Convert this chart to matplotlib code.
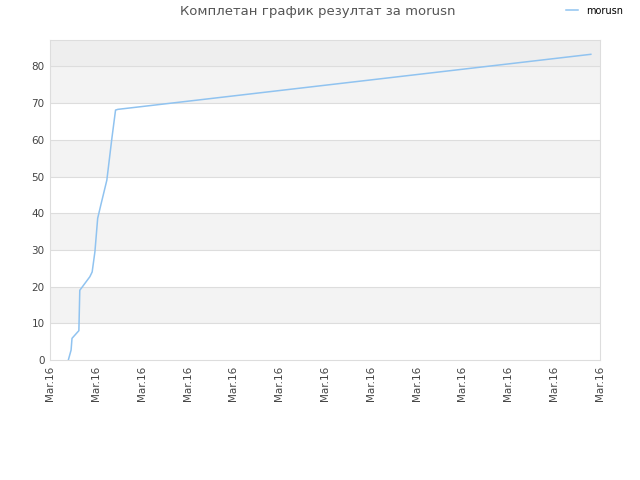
import numpy as np
import matplotlib.pyplot as plt

# x in tick units (13 ticks, all "Mar.16"), y = result
xs = [0.40, 0.46, 0.48, 0.63, 0.65, 0.87, 0.92, 0.98, 1.04, 1.11, 1.24, 1.35, 1.43, 1.48, 11.80]
ys = [0, 2.7, 5.9, 8, 19, 22.7, 24, 29.5, 38.6, 42.3, 49, 60.4, 68.1, 68.3, 83.3]
tick_labels = ['Mar.16'] * 13
series_name = 'morusn'
title = 'Комплетан график резултат за morusn'

fig = plt.figure(figsize=(6.4, 4.8), dpi=100)
ax = fig.add_axes([50/640, 120/480, 550/640, 320/480])

ymax = 87.2
ax.set_xlim(0, 12)
ax.set_ylim(0, ymax)

# alternating bands
for lo in range(10, 80, 20):
    ax.axhspan(lo, lo + 10, color='#f3f3f3', zorder=0, lw=0)
ax.axhspan(80, ymax, color='#eeeeee', zorder=0, lw=0)
for v in range(10, 90, 10):
    ax.axhline(v, color='#dddddd', lw=0.8, zorder=1)

ax.plot(xs, ys, color='#90c3f0', lw=1.1, zorder=3, label=series_name)

ax.set_yticks(range(0, 90, 10))
ax.set_xticks(range(13))
ax.set_xticklabels(tick_labels, rotation=90)
ax.tick_params(length=0, labelsize=7.5, colors='#444444', pad=4)
for s in ax.spines.values():
    s.set_color('#dddddd')

fig.text(318/640, 1 - 12/480, title, ha='center', va='center', fontsize=9.5, color='#555555')
fig.legend(loc='upper right', bbox_to_anchor=(0.982, 1.0), frameon=False, fontsize=7,
           handlelength=1.2, handletextpad=0.8, borderaxespad=0.2)

fig.savefig('out.png')
